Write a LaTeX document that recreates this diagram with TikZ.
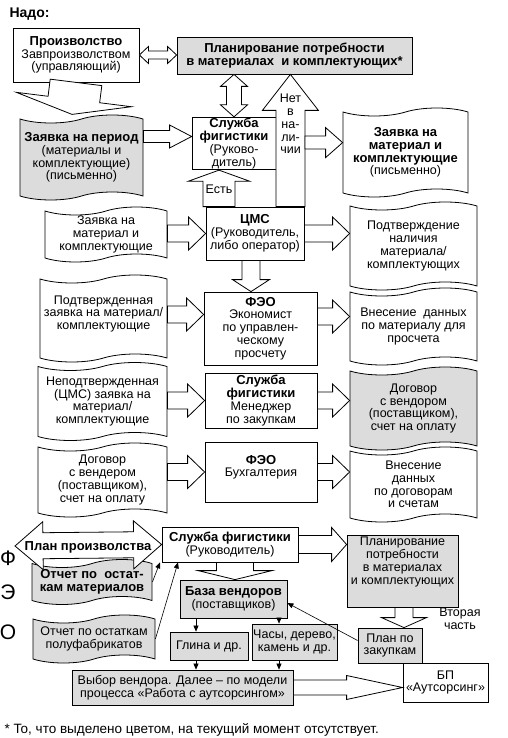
\documentclass[tikz,border=0pt]{standalone}
\usepackage{fontspec}
\setmainfont{Liberation Sans}
\usepackage{xcolor}
\definecolor{FillGray}{HTML}{DCDCDC}
\usetikzlibrary{arrows.meta,calc,positioning,shapes.symbols}

\newcommand{\diagfont}{\fontsize{12.5}{12.8}\selectfont}
\newcommand{\hd}[1]{{\fontsize{13}{12.8}\selectfont\bfseries #1}}
% hollow block arrow: from, tip, shaft half width, head half width, head length
\newcommand{\fatarrow}[5]{%
  \path ($(#2)!#5!(#1)$) coordinate (fa-base);
  \draw[fat] ($(#1)!#3!90:(#2)$) -- ($(fa-base)!#3!90:(#2)$) -- ($(fa-base)!#4!90:(#2)$) -- (#2)
    -- ($(fa-base)!#4!-90:(#2)$) -- ($(fa-base)!#3!-90:(#2)$) -- ($(#1)!#3!-90:(#2)$) -- cycle;}
% the same with two heads
\newcommand{\fatdarrow}[5]{%
  \path ($(#1)!#5!(#2)$) coordinate (fa-a) ($(#2)!#5!(#1)$) coordinate (fa-b);
  \draw[fat] (#1) -- ($(fa-a)!#4!90:(#2)$) -- ($(fa-a)!#3!90:(#2)$) -- ($(fa-b)!#3!90:(#2)$)
    -- ($(fa-b)!#4!90:(#2)$) -- (#2) -- ($(fa-b)!#4!-90:(#2)$) -- ($(fa-b)!#3!-90:(#2)$)
    -- ($(fa-a)!#3!-90:(#2)$) -- ($(fa-a)!#4!-90:(#2)$) -- cycle;}

\begin{document}
\begin{tikzpicture}[x=1pt,y=-1pt,
  box/.style={draw,line width=0.8pt,fill=white,align=center,inner sep=1pt,font=\diagfont},
  shadebox/.style={box,fill=FillGray},
  doc/.style={tape,draw,line width=0.8pt,fill=white,align=center,inner sep=1pt,tape bend height=8pt,font=\diagfont},
  shadedoc/.style={doc,fill=FillGray},
  fat/.style={draw,line width=0.8pt,fill=white,line join=miter},
  pointer/.style={line width=0.6pt,-{Triangle[length=6pt,width=5pt]}}
]
\useasboundingbox (0,0) rectangle (508,738);

\node[font=\bfseries\fontsize{14}{16}\selectfont,anchor=west] (title) at (6,14) {Надо:};

% top part
\node[box,minimum width=126pt,minimum height=54pt] (prod) at (76,55) {\hd{Произволство}\\Завпроизволством\\(управляющий)};
\node[shadebox,minimum width=235pt,minimum height=37pt] (plan) at (294.5,55.5) {\hd{Планирование потребности}\\\hd{в материалах\ \ и комплектующих*}};
\node[box,minimum width=84pt,minimum height=51pt] (sf1) at (234,143.5) {\hd{Служба}\\\hd{фигистики}\\(Руково-\\дитель)};
\node[box,minimum width=98pt,minimum height=53pt] (cms) at (255,233.5) {\hd{ЦМС}\\(Руководитель,\\либо оператор)};
\node[box,minimum width=113pt,minimum height=73pt] (fe1) at (260.5,328.5) {\hd{ФЭО}\\Экономист\\по управлен-\\ческому\\просчету};
\node[box,minimum width=112pt,minimum height=55pt] (sf3) at (261,400.5) {\hd{Служба}\\\hd{фигистики}\\Менеджер\\по закупкам};
\node[box,minimum width=112pt,minimum height=60pt,text depth=12pt] (fe2) at (261,472) {\hd{ФЭО}\\Бухгалтерия};

\node[shadedoc,minimum width=123pt,minimum height=85pt] (d1) at (81.5,157.5) {\hd{Заявка на период}\\(материалы и\\комплектующие)\\(письменно)};
\node[doc,minimum width=122pt,minimum height=55pt] (d2) at (106,234.5) {Заявка на\\материал и\\комплектующие};
\node[doc,minimum width=127pt,minimum height=87pt,text depth=12pt] (d3) at (103.5,318.5) {Подтвержденная\\заявка на материал/\\комплектующие};
\node[doc,minimum width=129pt,minimum height=78pt] (d4) at (102.5,401.5) {Неподтвержденная\\(ЦМС) заявка на\\материал/\\комплектующие};
\node[doc,minimum width=129pt,minimum height=74pt] (d5) at (102.5,480) {Договор\\с вендером\\(поставщиком),\\счет на оплату};

\node[doc,minimum width=125pt,minimum height=89pt] (r1) at (405.5,152.5) {\hd{Заявка на}\\\hd{материал и}\\\hd{комплектующие}\\(письменно)};
\node[doc,minimum width=127pt,minimum height=88pt] (r2) at (413.5,246) {Подтверждение\\наличия\\материала/\\комплектующих};
\node[doc,minimum width=127pt,minimum height=77pt] (r3) at (413.5,326.5) {Внесение\ \ данных\\по материалу для\\просчета};
\node[shadedoc,minimum width=127pt,minimum height=83pt] (r4) at (413.5,408.5) {Договор\\с вендором\\(поставщиком),\\счет на оплату};
\node[doc,minimum width=127pt,minimum height=75pt] (r5) at (413.5,484.5) {Внесение\\данных\\по договорам\\и счетам};

% arrows of the top part
\fatarrow{prod.south}{$(prod.south)+(-4,32)$}{26pt}{58pt}{15pt}
\fatdarrow{prod.east}{prod.east -| plan.west}{4pt}{8.5pt}{9pt}
\fatdarrow{sf1.north |- plan.south}{sf1.north}{7.5pt}{13.5pt}{12pt}
\coordinate (netbase) at ($(cms.north east)+(-14,0)$);
\fatarrow{netbase}{netbase |- plan.south}{14.5pt}{28pt}{36pt}
\node[font=\diagfont,align=center] (net) at (290.5,124) {Нет\\в\\на-\\ли-\\чии};
\coordinate (estb) at ([xshift=-36pt]cms.north);
\fatarrow{estb}{estb |- sf1.south}{16pt}{30.5pt}{11pt}
\node[font=\diagfont] (est) at (219,189) {Есть};
\coordinate (a1) at ([yshift=7pt]sf1.west);
\fatarrow{a1 -| d1.east}{a1}{6pt}{11.5pt}{22pt}
\coordinate (a2) at ($(netbase)+(14.5,-64)$);
\fatarrow{a2}{a2 -| r1.west}{6.5pt}{15pt}{17pt}
\fatarrow{cms.west -| d2.east}{cms.west}{8.5pt}{16.5pt}{17pt}
\fatarrow{cms.east}{cms.east -| r2.west}{8.5pt}{16.5pt}{17pt}
\coordinate (a3) at ([xshift=-4pt]cms.south);
\fatarrow{a3}{a3 |- fe1.north}{9pt}{18.5pt}{12pt}
\coordinate (a4) at ([yshift=14pt]fe1.west);
\fatarrow{a4 -| d3.east}{a4}{8.5pt}{16.5pt}{17pt}
\coordinate (a5) at ([yshift=12pt]fe1.east);
\fatarrow{a5}{a5 -| r3.west}{8.5pt}{16.5pt}{17pt}
\fatarrow{sf3.west -| d4.east}{sf3.west}{8.5pt}{16.5pt}{17pt}
\fatarrow{sf3.east}{sf3.east -| r4.west}{8.5pt}{16.5pt}{17pt}
\fatarrow{fe2.west -| d5.east}{fe2.west}{8.5pt}{16.5pt}{17pt}
\fatarrow{fe2.east}{fe2.east -| r5.west}{8.5pt}{16.5pt}{17pt}

% bottom part
\node[box,minimum width=136pt,minimum height=35pt] (sf4) at (230,544.5) {\hd{Служба фигистики}\\(Руководитель)};
\node[shadebox,minimum width=111pt,minimum height=72pt,text depth=21pt] (plan2) at (402.5,571) {Планирование\\потребности\\в материалах\\и комплектующих};
\node[shadebox,minimum width=107pt,minimum height=38pt] (vend) at (233.5,599) {\hd{База вендоров}\\(поставщиков)};
\node[shadebox,minimum width=78pt,minimum height=28pt] (clay) at (209,646) {Глина и др.};
\node[shadebox,minimum width=85pt,minimum height=36pt] (clock) at (294.5,642) {Часы, дерево,\\камень и др.};
\node[shadebox,minimum width=221pt,minimum height=35pt] (choice) at (182.5,687.5) {Выбор вендора. Далее – по модели\\процесса «Работа с аутсорсингом»};
\node[shadebox,minimum width=64pt,minimum height=35pt] (purch) at (390,645.5) {План по\\закупкам};
\node[box,minimum width=85pt,minimum height=39pt] (bp) at (445.5,682.5) {БП\\«Аутсорсинг»};
\node[shadedoc,minimum width=120pt,minimum height=45pt] (rest1) at (92,582) {\hd{Отчет по\ \ остат-}\\\hd{кам материалов}};
\node[shadedoc,minimum width=122pt,minimum height=48pt] (rest2) at (94,639) {Отчет по остаткам\\полуфабрикатов};

\coordinate (ppl) at (15,546);
\fatdarrow{ppl}{sf4.west}{13pt}{24pt}{28pt}
\node[font=\diagfont] (pplan) at (88,547) {\hd{План произволства}};
\fatarrow{sf4.east}{sf4.east -| plan2.west}{9pt}{17pt}{15pt}
\coordinate (a6) at ([xshift=5pt]sf4.south);
\fatarrow{a6}{a6 |- vend.north}{18.5pt}{37pt}{9pt}
\coordinate (a7) at ([xshift=1.5pt]plan2.south);
\fatarrow{a7}{a7 |- purch.north}{9pt}{22.5pt}{10pt}
\fatarrow{choice.east}{choice.east -| bp.west}{7.5pt}{12pt}{56pt}
\node[font=\diagfont,align=center] (second) at (460,619) {Вторая\\часть};

\coordinate (b1) at ([xshift=-37.5pt]vend.south);
\coordinate (b2) at ([xshift=45.5pt]vend.south);
\draw[pointer] (b1) -- (b1 |- clay.north);
\draw[pointer] (b2) -- (b2 |- clock.north);
\draw[pointer] (b1 |- clay.south) -- (b1 |- choice.north);
\draw[pointer] (b2 |- clock.south) -- (b2 |- choice.north);
\draw[pointer] ([yshift=5pt]purch.west) -- ([yshift=-4pt]vend.east);
\draw[pointer] (rest1.east) -- ([xshift=-70pt]sf4.south);
\draw[pointer] (rest2.east) -- ([xshift=-52pt]sf4.south);

\node[font=\fontsize{21}{21}\selectfont] (lf) at (8,558) {Ф};
\node[font=\fontsize{21}{21}\selectfont] (le) at (8,592) {Э};
\node[font=\fontsize{21}{21}\selectfont] (lo) at (8,632) {О};

\node[anchor=west,font=\fontsize{13.5}{14}\selectfont] (note) at (1,730) {* То, что выделено цветом, на текущий момент отсутствует.};
\end{tikzpicture}
\end{document}
